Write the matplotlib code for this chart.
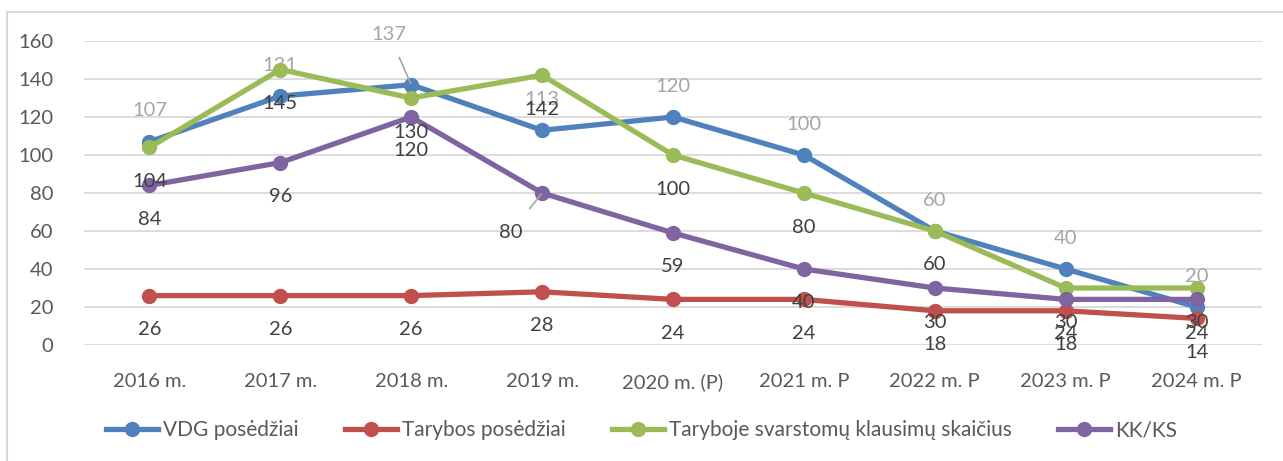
import matplotlib
matplotlib.use("Agg")
import matplotlib.pyplot as plt
from matplotlib.lines import Line2D

categories = ["2016 m.", "2017 m.", "2018 m.", "2019 m.", "2020 m. (P)",
              "2021 m. P", "2022 m. P", "2023 m. P", "2024 m. P"]
vdg = [107, 131, 137, 113, 120, 100, 60, 40, 20]
tarybos = [26, 26, 26, 28, 24, 24, 18, 18, 14]
taryboje = [104, 145, 130, 142, 100, 80, 60, 30, 30]
kkks = [84, 96, 120, 80, 59, 40, 30, 24, 24]
series_names = ["VDG posėdžiai", "Tarybos posėdžiai",
                "Taryboje svarstomų klausimų skaičius", "KK/KS"]
yticks = [0, 20, 40, 60, 80, 100, 120, 140, 160]

colors = ["#4F81BD", "#C0504D", "#9BBB59", "#8064A2"]
FONT = "Lato"
FS = 14.5
W, H = 1283, 461
fig = plt.figure(figsize=(W / 100, H / 100), dpi=100)
ax = fig.add_axes([84 / W, (H - 345) / H, (1262 - 84) / W, (345 - 41) / H])

x = list(range(len(categories)))
all_series = [vdg, tarybos, taryboje, kkks]
zs = [2, 3, 4, 5]
for s, c, z, name in zip(all_series, colors, zs, series_names):
    ax.plot(x, s, color=c, lw=3.8, marker="o", ms=10, zorder=z, label=name,
            solid_capstyle="round", clip_on=False)

ax.set_xlim(-0.5, len(categories) - 0.5)
ax.set_ylim(0, 160)
ax.set_yticks(yticks)
ax.set_xticks(x)
ax.set_xticklabels(categories)
ax.yaxis.grid(True, color="#D9D9D9", lw=1.3)
ax.set_axisbelow(True)
for sp in ax.spines.values():
    sp.set_visible(False)
ax.tick_params(length=0, labelsize=FS, colors="#595959", pad=8)
ax.tick_params(axis="x", pad=20)
ax.tick_params(axis="y", pad=22)
for lab in ax.get_xticklabels() + ax.get_yticklabels():
    lab.set_fontfamily(FONT)

# VDG labels (grey, above)
for i, v in enumerate(vdg):
    if i == 2:
        ax.annotate(str(v), xy=(i, v), xytext=(-22, 50), textcoords="offset pixels",
                    ha="center", va="center", fontsize=FS, family=FONT, color="#A6A6A6",
                    zorder=2.5,
                    arrowprops=dict(arrowstyle="-", color="#A6A6A6", lw=1.2,
                                    shrinkA=9, shrinkB=1))
    else:
        ax.annotate(str(v), xy=(i, v), xytext=(0, 31), textcoords="offset pixels",
                    ha="center", va="center", fontsize=FS, family=FONT, color="#A6A6A6",
                    zorder=2.5)

# other labels (dark, below)
for s in [tarybos, taryboje, kkks]:
    for i, v in enumerate(s):
        if s is kkks and i == 3:
            ax.annotate(str(v), xy=(i, v), xytext=(-31, -39), textcoords="offset pixels",
                        ha="center", va="center", fontsize=FS, family=FONT, color="#404040",
                        zorder=6,
                        arrowprops=dict(arrowstyle="-", color="#A6A6A6", lw=1.2,
                                        shrinkA=11, shrinkB=1))
        else:
            ax.annotate(str(v), xy=(i, v), xytext=(0, -34), textcoords="offset pixels",
                        ha="center", va="center", fontsize=FS, family=FONT, color="#404040",
                        zorder=6)

handles = [Line2D([], [], color=c, lw=3.8, marker="o", ms=10) for c in colors]
leg = fig.legend(handles, series_names, loc="center", bbox_to_anchor=(0.5, (H - 430) / H),
                 ncol=4, frameon=False, handlelength=2.5, handletextpad=0.25,
                 columnspacing=2.2, prop={"family": FONT, "size": 15})
for t in leg.get_texts():
    t.set_color("#595959")

# chart area border (left and top visible)
fig.add_artist(plt.Rectangle((7 / W, -0.05), 1.2, (H - 12) / H + 0.05,
                             transform=fig.transFigure, fill=False,
                             edgecolor="#D9D9D9", lw=1.5))

fig.savefig("out.png", dpi=100)
